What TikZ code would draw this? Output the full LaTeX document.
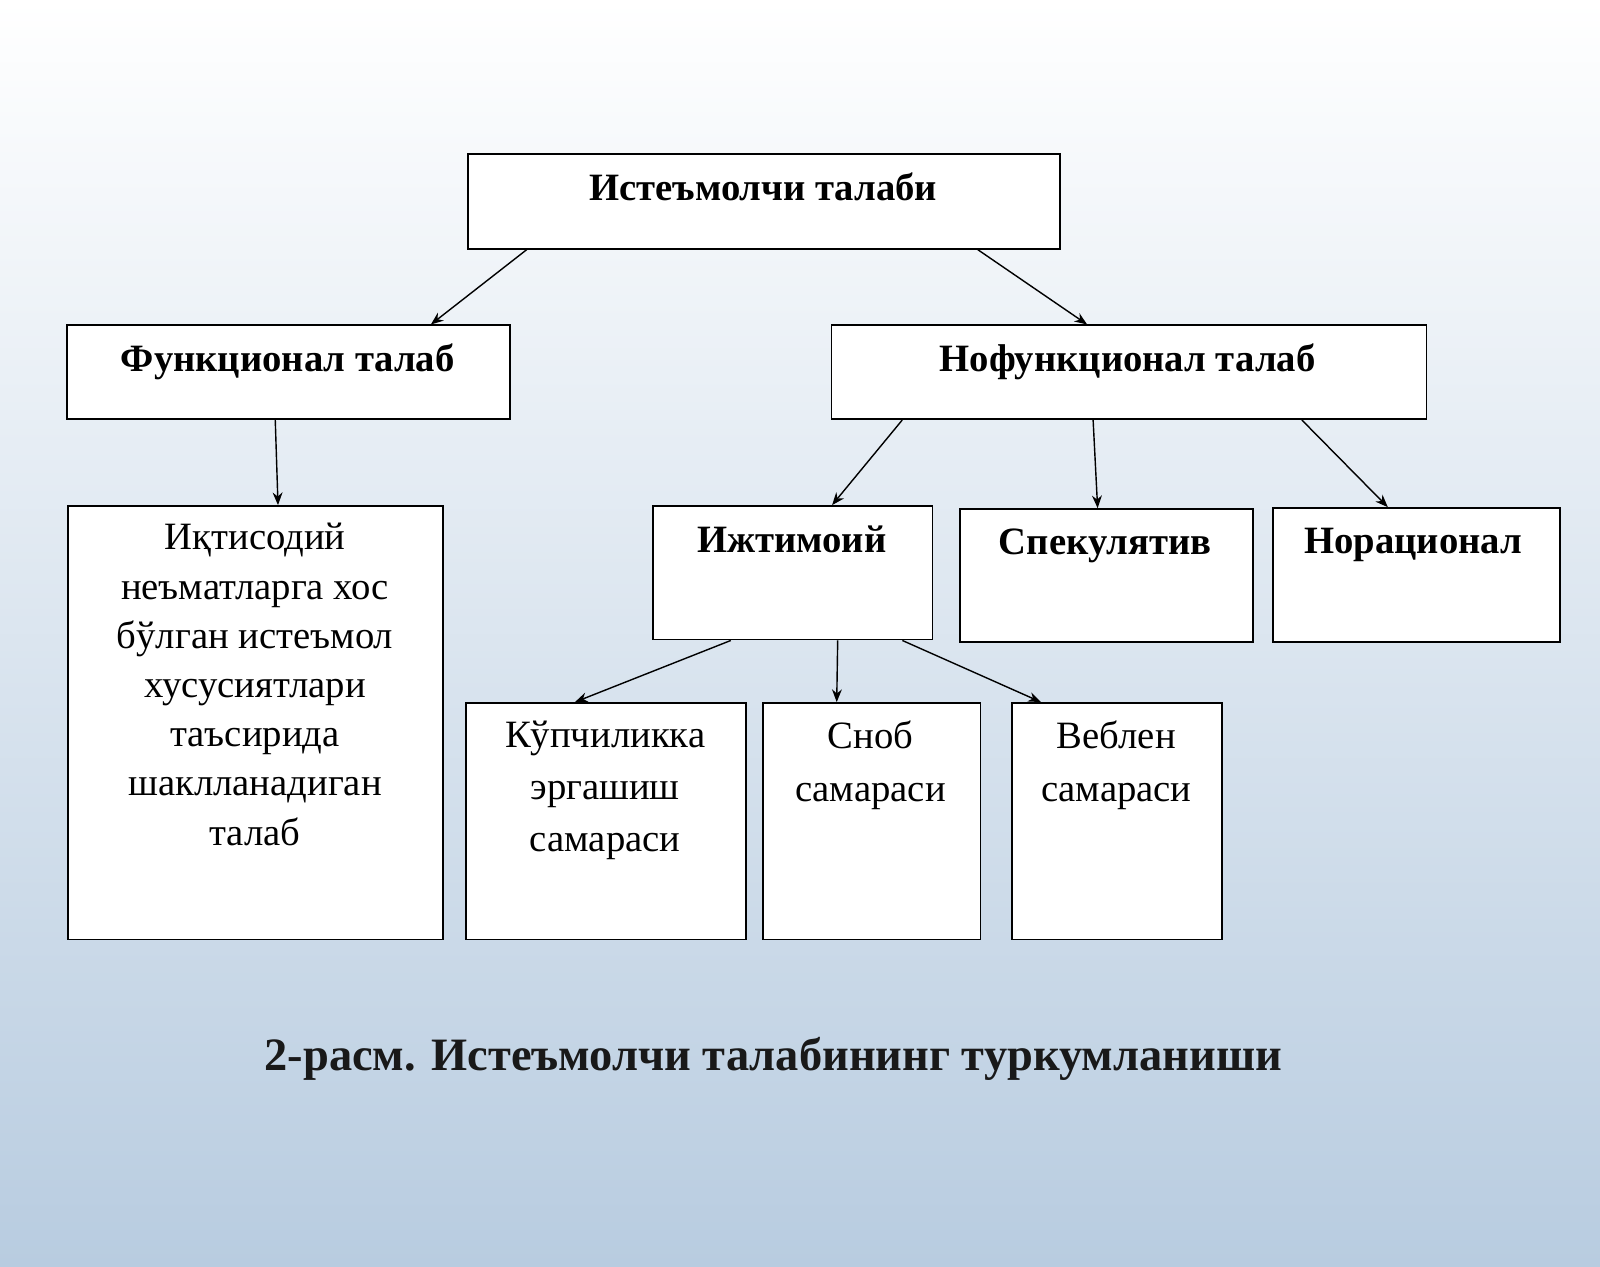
\documentclass[tikz,border=0pt]{standalone}
\usepackage{fontspec}
\setmainfont{Liberation Serif}
\usetikzlibrary{calc,arrows.meta}
\definecolor{bgblue}{RGB}{184, 204, 224}
\tikzset{
  box/.style={draw, line width=1.2pt, fill=white, anchor=north west},
  txt/.style={align=center, font=\fontsize{27.5}{35}\selectfont, anchor=north},
  head/.style={txt, font=\fontsize{27.5}{35}\selectfont\bfseries},
  arr/.style={-{Stealth[length=9pt,width=7pt]}, line width=1pt}
}
\newcommand{\boxat}[5]{% name, x1, y1, x2, y2
  \node[box, minimum width={(#4-#2)*0.0255cm}, minimum height={(#5-#3)*0.0255cm}, inner sep=0pt] (#1) at (#2,#3) {};
}
\begin{document}
\begin{tikzpicture}[x=0.0255cm, y=-0.0255cm]
    % Background
    \shade[top color=white, bottom color=bgblue] (0,0) rectangle (1568,1241);
    \useasboundingbox (0,0) rectangle (1568,1241);

    % Boxes
    \boxat{demand}{458}{150}{1038}{243}
    \boxat{func}{65}{318}{499}{410}
    \boxat{nofunc}{814}{318}{1397}{410}
    \boxat{econ}{66}{495}{433}{920}
    \boxat{social}{639}{495}{913}{626}
    \boxat{spec}{940}{498}{1227}{628}
    \boxat{irrat}{1247}{497}{1528}{628}
    \boxat{band}{456}{688}{730}{920}
    \boxat{snob}{747}{688}{960}{920}
    \boxat{veblen}{991}{688}{1197}{920}

    % Texts
    \node[head] (demandT) at (748,164) {Истеъмолчи талаби};
    \node[head] (funcT) at (282,332) {Функционал талаб};
    \node[head] (nofuncT) at (1105,332) {Нофункционал талаб};
    \node[txt, font=\fontsize{27.5}{35}\selectfont] (econT) at (250,508) {Иқтисодий\\неъматларга хос\\бўлган истеъмол\\хусусиятлари\\таъсирида\\шаклланадиган\\талаб};
    \node[head] (socialT) at (776,510) {Ижтимоий};
    \node[head] (specT) at (1083,513) {Спекулятив};
    \node[head] (irratT) at (1385,513) {Норационал};
    \node[txt, font=\fontsize{27.5}{37}\selectfont] (bandT) at (593,702) {Кўпчиликка\\эргашиш\\самараси};
    \node[txt, font=\fontsize{27.5}{37}\selectfont] (snobT) at (853,702) {Сноб\\самараси};
    \node[txt, font=\fontsize{27.5}{37}\selectfont] (veblenT) at (1094,702) {Веблен\\самараси};

    % Arrows
    \draw[arr] ($(demand.south west)!0.10!(demand.south east)$) -- ($(func.north west)!0.82!(func.north east)$);
    \draw[arr] ($(demand.south west)!0.86!(demand.south east)$) -- ($(nofunc.north west)!0.43!(nofunc.north east)$);
    \draw[arr] ($(func.south west)!0.47!(func.south east)$) -- ($(econ.north west)!0.56!(econ.north east)$);
    \draw[arr] ($(nofunc.south west)!0.12!(nofunc.south east)$) -- ($(social.north west)!0.64!(social.north east)$);
    \draw[arr] ($(nofunc.south west)!0.44!(nofunc.south east)$) -- ($(spec.north west)!0.47!(spec.north east)$);
    \draw[arr] ($(nofunc.south west)!0.79!(nofunc.south east)$) -- ($(irrat.north west)!0.40!(irrat.north east)$);
    \draw[arr] ($(social.south west)!0.28!(social.south east)$) -- ($(band.north west)!0.39!(band.north east)$);
    \draw[arr] ($(social.south west)!0.66!(social.south east)$) -- ($(snob.north west)!0.34!(snob.north east)$);
    \draw[arr] ($(social.south west)!0.89!(social.south east)$) -- ($(veblen.north west)!0.14!(veblen.north east)$);

    % Caption
    \node[font=\fontsize{33}{40}\selectfont\bfseries, text=black!90] (caption) at (758,1038) {2-расм. Истеъмолчи талабининг туркумланиши};
\end{tikzpicture}
\end{document}
